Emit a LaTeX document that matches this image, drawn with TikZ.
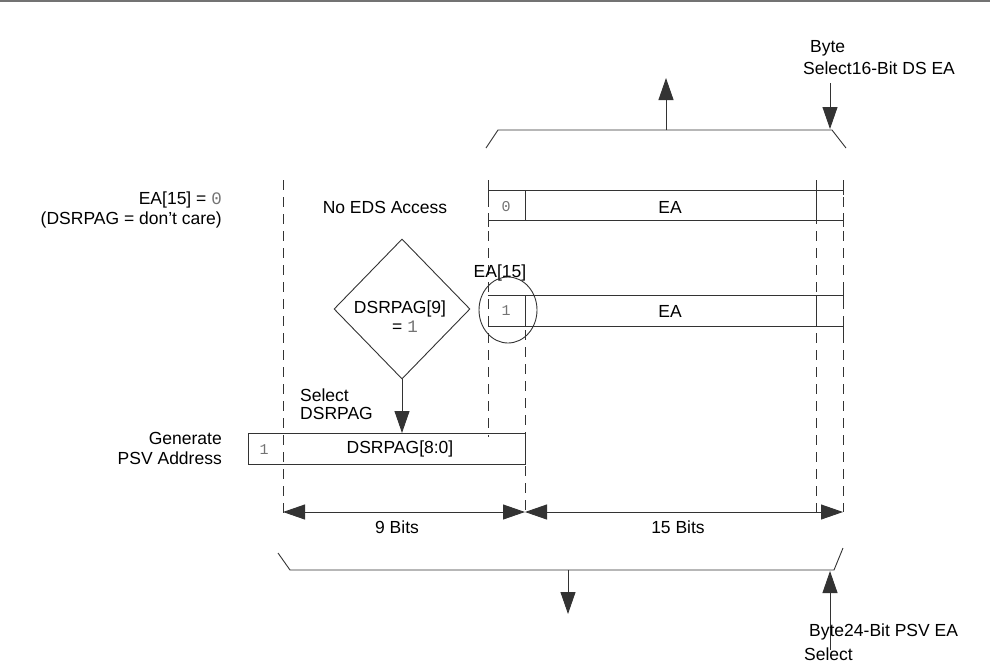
\documentclass[tikz,border=0pt]{standalone}
\usepackage{fontspec}
\setmainfont{Liberation Sans}
\setmonofont{Liberation Mono}
\usetikzlibrary{arrows.meta,shapes.geometric}
\begin{document}
\begin{tikzpicture}[x=1pt,y=-1pt,
  ln/.style={line width=0.9pt,draw=black!80},
  dsh/.style={ln,dash pattern=on 10pt off 7pt},
  tip/.tip={Triangle[length=22pt,width=15pt]},
  arr/.style={ln,-tip},
  txt/.style={font=\fontsize{17.5}{20}\selectfont,inner sep=0pt},
  mono/.style={font=\ttfamily\fontsize{15}{17}\selectfont,text=black!55,inner sep=0pt}]
\useasboundingbox (0,0) rectangle (990,665);
\draw[line width=2pt,black!55] (0,1) -- (990,1);
% dashed guides
\draw[dsh] (283,180) -- (283,515);
\draw[dsh] (488,180) -- (488,437);
\draw[dsh] (525,330) -- (525,512);
\draw[dsh] (816,180) -- (816,512);
\draw[dsh] (843,180) -- (843,512);
% top bracket
\draw[ln] (486,148) -- (498,130) -- (832,130) -- (846,148);
\coordinate (tb) at (666,130); \coordinate (tu) at (666,78);
\draw[arr] (tb) -- (tu);
\coordinate (ts) at (830,83); \coordinate (te) at (830,129);
\draw[arr] (ts) -- (te);
\node[txt,anchor=west] (byte1) at (810,48) {Byte};
\node[txt,anchor=west] (sel1) at (803,68) {Select16-Bit DS EA};
% row 1
\draw[ln] (488,190) -- (843,190); \draw[ln] (488,220) -- (843,220);
\draw[ln] (525,190) -- (525,220); \draw[ln] (816,190) -- (816,220);
\draw[ln] (488,183) -- (488,197); \draw[ln] (843,183) -- (843,195);
\draw[ln] (488,213) -- (488,227); \draw[ln] (843,213) -- (843,227);
\node[mono] (z0) at (506,207) {0};
\node[txt] (ea1) at (670,207) {EA};
\node[txt] (noeds) at (385,207) {No EDS Access};
% row 2
\draw[ln] (488,295) -- (843,295); \draw[ln] (488,326) -- (843,326);
\draw[ln] (525,295) -- (525,326); \draw[ln] (816,295) -- (816,326);
\draw[ln] (843,288) -- (843,302); \draw[ln] (843,319) -- (843,333);
\node[mono] (o1) at (506,311) {1};
\node[txt] (ea2) at (670,311) {EA};
\node[txt] (ea15) at (500,273) {EA[15]};
\draw[ln] (508,310) ellipse (29 and 33);
% diamond
\node[diamond,ln,minimum width=136pt,minimum height=140pt,inner sep=0pt] (dia) at (402,309) {};
\node[txt] (d1) at (400,309) {DSRPAG[9]};
\node[txt,anchor=west] (d2) at (392,327) {= \textcolor{black!55}{\ttfamily 1}};
% PSV box
\node[draw=black!80,line width=0.9pt,minimum width=277pt,minimum height=31pt,inner sep=0pt,anchor=north west] (box) at (248,433) {};
\node[mono] (b1) at (264,450) {1};
\node[txt] (bl) at (400,449) {DSRPAG[8:0]};
\draw[arr] (dia.south) -- (dia.south |- box.north);
\node[txt,anchor=west] (s1) at (300,395) {Select};
\node[txt,anchor=west] (s2) at (300,413) {DSRPAG};
\node[txt,anchor=east] (g1) at (222,438) {Generate};
\node[txt,anchor=east] (g2) at (222,458) {PSV Address};
\node[txt,anchor=east] (e1) at (222,200) {EA[15] = \textcolor{black!55}{\ttfamily 0}};
\node[txt,anchor=east] (e2) at (222,220) {(DSRPAG = don’t care)};
% dimensions
\coordinate (a) at (283,512); \coordinate (b) at (525,512); \coordinate (c) at (843,512);
\draw[ln,tip-tip] (a) -- (b);
\draw[ln,tip-tip] (b) -- (c);
\node[txt] (n9) at (397,527) {9 Bits};
\node[txt] (n15) at (678,527) {15 Bits};
% bottom bracket
\draw[ln] (278,553) -- (290,570) -- (834,570) -- (843,548);
\coordinate (bb) at (568,570); \coordinate (bd) at (568,614);
\draw[arr] (bb) -- (bd);
\coordinate (us) at (830,650); \coordinate (ue) at (830,571);
\draw[arr] (us) -- (ue);
\node[txt,anchor=west] (byte2) at (809,632) {Byte24-Bit PSV EA};
\node[txt,anchor=west] (sel2) at (804,654) {Select};
\end{tikzpicture}
\end{document}
